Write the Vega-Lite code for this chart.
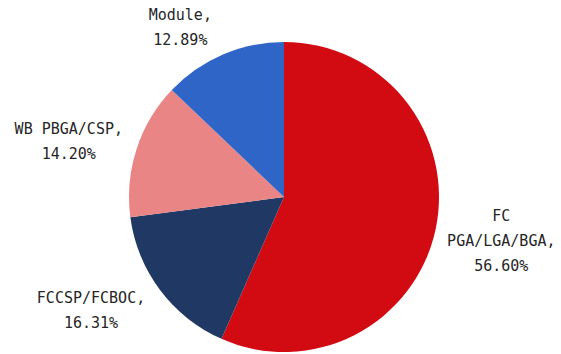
{
  "$schema": "https://vega.github.io/schema/vega-lite/v6.json",
  "width": 554,
  "height": 314,
  "autosize": {"type": "none"},
  "padding": {"left": 7, "top": 40, "right": 0, "bottom": 0},
  "background": "white",
  "view": {"stroke": null},
  "data": {
    "values": [
      {"idx": 1, "name": "FC PGA/LGA/BGA", "value": 56.60, "label": "FC\nPGA/LGA/BGA,\n56.60%"},
      {"idx": 2, "name": "FCCSP/FCBOC", "value": 16.31, "label": "FCCSP/FCBOC,\n16.31%"},
      {"idx": 3, "name": "WB PBGA/CSP", "value": 14.20, "label": "WB PBGA/CSP,\n14.20%"},
      {"idx": 4, "name": "Module", "value": 12.89, "label": "Module,\n12.89%"}
    ]
  },
  "encoding": {
    "theta": {"field": "value", "type": "quantitative", "stack": true},
    "order": {"field": "idx", "type": "quantitative"}
  },
  "layer": [
    {
      "mark": {"type": "arc", "outerRadius": 155},
      "encoding": {
        "color": {
          "field": "name", "type": "nominal", "legend": null,
          "scale": {
            "domain": ["FC PGA/LGA/BGA", "FCCSP/FCBOC", "WB PBGA/CSP", "Module"],
            "range": ["#D20A11", "#203864", "#E98585", "#3065C8"]
          }
        }
      }
    },
    {
      "mark": {"type": "text", "radius": 220, "dx": 2, "dy": -26, "font": "DejaVu Sans Mono", "fontSize": 15, "lineHeight": 25, "lineBreak": "\n", "align": "center", "baseline": "middle", "color": "#262626"},
      "encoding": {"text": {"condition": {"test": "datum.name === 'FC PGA/LGA/BGA'", "field": "label"}, "value": ""}}
    },
    {
      "mark": {"type": "text", "radius": 220, "dx": -17, "dy": -31, "font": "DejaVu Sans Mono", "fontSize": 15, "lineHeight": 25, "lineBreak": "\n", "align": "center", "baseline": "middle", "color": "#262626"},
      "encoding": {"text": {"condition": {"test": "datum.name === 'FCCSP/FCBOC'", "field": "label"}, "value": ""}}
    },
    {
      "mark": {"type": "text", "radius": 220, "dx": -6, "dy": 0, "font": "DejaVu Sans Mono", "fontSize": 15, "lineHeight": 25, "lineBreak": "\n", "align": "center", "baseline": "middle", "color": "#262626"},
      "encoding": {"text": {"condition": {"test": "datum.name === 'WB PBGA/CSP'", "field": "label"}, "value": ""}}
    },
    {
      "mark": {"type": "text", "radius": 220, "dx": -17, "dy": 20, "font": "DejaVu Sans Mono", "fontSize": 15, "lineHeight": 25, "lineBreak": "\n", "align": "center", "baseline": "middle", "color": "#262626"},
      "encoding": {"text": {"condition": {"test": "datum.name === 'Module'", "field": "label"}, "value": ""}}
    }
  ]
}
